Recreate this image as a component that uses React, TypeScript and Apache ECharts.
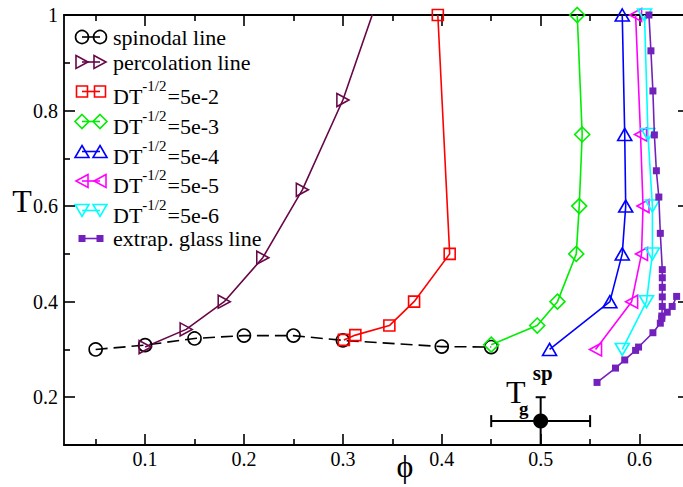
import React, { useEffect, useRef } from 'react';
import * as echarts from 'echarts';

// ---------- data ----------
const spinodalPhi = [0.05, 0.1, 0.15, 0.2, 0.25, 0.3, 0.4, 0.45];
const spinodalT = [0.300, 0.309, 0.323, 0.329, 0.329, 0.319, 0.306, 0.305];

const percolationPhi = [0.1, 0.1415, 0.18, 0.219, 0.259, 0.300, 0.338];
const percolationT = [0.305, 0.342, 0.400, 0.492, 0.634, 0.822, 1.05];

const dt2Phi = [0.301, 0.3126, 0.347, 0.372, 0.408, 0.396];
const dt2T = [0.32, 0.33, 0.35, 0.40, 0.50, 1.0];

const dt3Phi = [0.45, 0.4965, 0.517, 0.536, 0.539, 0.542, 0.537];
const dt3T = [0.31, 0.35, 0.40, 0.50, 0.60, 0.75, 1.0];

const dtLowT = [0.30, 0.40, 0.50, 0.60, 0.75, 1.0];
const dt4Phi = [0.509, 0.570, 0.5825, 0.586, 0.585, 0.5825];
const dt5Phi = [0.5555, 0.592, 0.602, 0.6035, 0.601, 0.596];
const dt6Phi = [0.5825, 0.607, 0.613, 0.613, 0.6085, 0.605];

const glassPhi = [0.557, 0.5757, 0.585, 0.596, 0.599, 0.6135, 0.621, 0.6225, 0.623, 0.623, 0.623, 0.623, 0.623, 0.621, 0.6195, 0.617, 0.615, 0.6135, 0.6115, 0.6095];
const glassT = [0.231, 0.261, 0.278, 0.298, 0.305, 0.335, 0.355, 0.370, 0.390, 0.410, 0.430, 0.450, 0.467, 0.543, 0.619, 0.674, 0.749, 0.841, 0.925, 1.0];
const glassBranchPhi = [0.6225, 0.628, 0.633, 0.6375];
const glassBranchT = [0.365, 0.378, 0.390, 0.411];

const tgPhi = 0.5;
const tgT = 0.15;
const tgPhiRange = [0.45, 0.55];
const tgTRange = [0.1, 0.2];

const xLabelTicks = [0.1, 0.2, 0.3, 0.4, 0.5, 0.6];
const xMinorTicks = [0.05, 0.15, 0.25, 0.35, 0.45, 0.55, 0.65];
const yLabelTicks = [0.2, 0.4, 0.6, 0.8, 1];
const yMinorTicks = [0.3, 0.5, 0.7, 0.9];

// legend texts
const plainLegendNames = ['spinodal line', 'percolation line', 'extrap. glass line'];
const dtLegendValues = ['=5e-2', '=5e-3', '=5e-4', '=5e-5', '=5e-6'];
const dtLegendBase = 'DT';
const dtLegendSup = '-1/2';

const X_MIN = 0.018;
const X_MAX = 0.65;
const Y_MIN = 0.1;
const Y_MAX = 1.0;

const FONT = 'Liberation Serif, Times New Roman, DejaVu Serif, serif';

const zip = (a: number[], b: number[]) => a.map((v, i) => [v, b[i]]);

const TRI_RIGHT = 'path://M0,0L10,5L0,10Z';
const TRI_LEFT = 'path://M10,0L0,5L10,10Z';
const TRI_UP = 'path://M5,0L10,10L0,10Z';
const TRI_DOWN = 'path://M0,0L10,0L5,10Z';

const COLORS = {
  spin: '#000000',
  perc: '#670748',
  dt2: '#ff0000',
  dt3: '#00ee00',
  dt4: '#0000ff',
  dt5: '#ff00ff',
  dt6: '#00ffff',
  glass: '#7221bc',
};

function lineSeries(name: string, data: number[][], color: string, symbol: string, size: any, extra: any = {}) {
  return {
    type: 'line',
    name,
    data,
    xAxisIndex: 0,
    yAxisIndex: 0,
    symbol,
    symbolSize: size,
    showAllSymbol: true,
    clip: true,
    lineStyle: { color, width: 1.6, ...(extra.lineStyle || {}) },
    itemStyle: { color: 'rgba(255,255,255,0)', borderColor: color, borderWidth: 1.6, ...(extra.itemStyle || {}) },
    emphasis: { disabled: true },
    z: extra.z || 3,
  };
}

function axisCommon(extra: any) {
  return {
    type: 'value',
    splitLine: { show: false },
    ...extra,
  };
}

function legendSymbol(kind: string, cx: number, cy: number, color: string): any {
  const st = { fill: 'none', stroke: color, lineWidth: 1.6 };
  switch (kind) {
    case 'circle':
      return { type: 'circle', shape: { cx, cy, r: 6.5 }, style: st };
    case 'rect':
      return { type: 'rect', shape: { x: cx - 5.5, y: cy - 5.5, width: 11, height: 11 }, style: st };
    case 'fillRect':
      return { type: 'rect', shape: { x: cx - 3.5, y: cy - 3.5, width: 7, height: 7 }, style: { fill: color } };
    case 'diamond':
      return { type: 'polygon', shape: { points: [[cx, cy - 7], [cx + 7, cy], [cx, cy + 7], [cx - 7, cy]] }, style: st };
    case 'triRight':
      return { type: 'polygon', shape: { points: [[cx - 6, cy - 6.5], [cx + 6, cy], [cx - 6, cy + 6.5]] }, style: st };
    case 'triLeft':
      return { type: 'polygon', shape: { points: [[cx + 6, cy - 6.5], [cx - 6, cy], [cx + 6, cy + 6.5]] }, style: st };
    case 'triUp':
      return { type: 'polygon', shape: { points: [[cx, cy - 6], [cx + 7, cy + 6], [cx - 7, cy + 6]] }, style: st };
    case 'triDown':
      return { type: 'polygon', shape: { points: [[cx - 7, cy - 6], [cx + 7, cy - 6], [cx, cy + 6]] }, style: st };
  }
  return null;
}

function legendIcon(kind: string, cy: number, color: string): any[] {
  const x1 = 82, x2 = 100;
  return [
    { type: 'line', shape: { x1, y1: cy, x2, y2: cy }, style: { stroke: color, lineWidth: 1.6 } },
    legendSymbol(kind, x1, cy, color),
    legendSymbol(kind, x2, cy, color),
  ];
}

function txt(text: string, x: number, y: number, size: number, extra: any = {}) {
  return {
    type: 'text', x, y,
    style: { text, fontFamily: FONT, fontSize: size, fill: '#000', align: 'left', verticalAlign: 'middle', ...extra },
  };
}

export default function App() {
  const ref = useRef<HTMLDivElement>(null);
  useEffect(() => {
    if (!ref.current) return;
    const chart = echarts.init(ref.current, null, { renderer: 'svg' });

    const axisLineStyle = { color: '#000', width: 1.8 };
    const tickStyle = { color: '#000', width: 1.6 };
    const labelStyle = { color: '#000', fontFamily: FONT, fontSize: 20 };

    const xAxes = [
      axisCommon({
        min: X_MIN, max: X_MAX, position: 'bottom', gridIndex: 0,
        axisLine: { show: true, onZero: false, lineStyle: axisLineStyle },
        axisTick: { show: true, inside: true, length: 11, customValues: xLabelTicks, lineStyle: tickStyle },
        axisLabel: { show: true, customValues: xLabelTicks, ...labelStyle, margin: 4, formatter: (v: number) => String(v) },
      }),
      axisCommon({
        min: X_MIN, max: X_MAX, position: 'bottom', gridIndex: 0,
        axisLine: { show: false, onZero: false },
        axisTick: { show: true, inside: true, length: 6, customValues: xMinorTicks, lineStyle: tickStyle },
        axisLabel: { show: false },
      }),
      axisCommon({
        min: X_MIN, max: X_MAX, position: 'top', gridIndex: 0,
        axisLine: { show: true, onZero: false, lineStyle: axisLineStyle },
        axisTick: { show: true, inside: true, length: 11, customValues: xLabelTicks, lineStyle: tickStyle },
        axisLabel: { show: false },
      }),
      axisCommon({
        min: X_MIN, max: X_MAX, position: 'top', gridIndex: 0,
        axisLine: { show: false, onZero: false },
        axisTick: { show: true, inside: true, length: 6, customValues: xMinorTicks, lineStyle: tickStyle },
        axisLabel: { show: false },
      }),
    ];
    const yAxes = [
      axisCommon({
        min: Y_MIN, max: Y_MAX, position: 'left', gridIndex: 0,
        axisLine: { show: true, onZero: false, lineStyle: axisLineStyle },
        axisTick: { show: true, inside: true, length: 11, customValues: yLabelTicks, lineStyle: tickStyle },
        axisLabel: { show: true, customValues: yLabelTicks, ...labelStyle, margin: 6, formatter: (v: number) => String(v) },
      }),
      axisCommon({
        min: Y_MIN, max: Y_MAX, position: 'left', gridIndex: 0,
        axisLine: { show: false, onZero: false },
        axisTick: { show: true, inside: true, length: 6, customValues: yMinorTicks, lineStyle: tickStyle },
        axisLabel: { show: false },
      }),
      axisCommon({
        min: Y_MIN, max: Y_MAX, position: 'right', gridIndex: 0,
        axisLine: { show: true, onZero: false, lineStyle: axisLineStyle },
        axisTick: { show: true, inside: true, length: 11, customValues: yLabelTicks, lineStyle: tickStyle },
        axisLabel: { show: false },
      }),
      axisCommon({
        min: Y_MIN, max: Y_MAX, position: 'right', gridIndex: 0,
        axisLine: { show: false, onZero: false },
        axisTick: { show: true, inside: true, length: 6, customValues: yMinorTicks, lineStyle: tickStyle },
        axisLabel: { show: false },
      }),
    ];

    const dtNames = dtLegendValues.map((v) => dtLegendBase + '^{' + dtLegendSup + '}' + v);

    const series: any[] = [
      lineSeries(plainLegendNames[0], zip(spinodalPhi, spinodalT), COLORS.spin, 'circle', 13, { lineStyle: { type: [12, 6] } }),
      lineSeries(plainLegendNames[1], zip(percolationPhi, percolationT), COLORS.perc, TRI_RIGHT, [12, 13]),
      lineSeries(dtNames[0], zip(dt2Phi, dt2T), COLORS.dt2, 'rect', 11),
      lineSeries(dtNames[1], zip(dt3Phi, dt3T), COLORS.dt3, 'diamond', 15),
      lineSeries(dtNames[2], zip(dt4Phi, dtLowT), COLORS.dt4, TRI_UP, [14, 12]),
      lineSeries(dtNames[3], zip(dt5Phi, dtLowT), COLORS.dt5, TRI_LEFT, [12, 13]),
      lineSeries(dtNames[4], zip(dt6Phi, dtLowT), COLORS.dt6, TRI_DOWN, [14, 12]),
      lineSeries(plainLegendNames[2], zip(glassPhi, glassT), COLORS.glass, 'rect', 7, { itemStyle: { color: COLORS.glass, borderWidth: 0 }, z: 4 }),
      lineSeries(plainLegendNames[2], zip(glassBranchPhi, glassBranchT), COLORS.glass, 'rect', 7, { itemStyle: { color: COLORS.glass, borderWidth: 0 }, z: 4 }),
      {
        type: 'custom',
        name: 'Tg_sp',
        xAxisIndex: 0,
        yAxisIndex: 0,
        clip: false,
        z: 6,
        data: [[tgPhi, tgT, tgPhiRange[0], tgPhiRange[1], tgTRange[0], tgTRange[1]]],
        encode: { x: 0, y: 1 },
        renderItem: (params: any, api: any) => {
          const c = api.coord([api.value(0), api.value(1)]);
          const xl = api.coord([api.value(2), api.value(1)]);
          const xr = api.coord([api.value(3), api.value(1)]);
          const yb = api.coord([api.value(0), api.value(4)]);
          const yt = api.coord([api.value(0), api.value(5)]);
          const st = { stroke: '#000', lineWidth: 2 };
          const cap = 6;
          return {
            type: 'group',
            children: [
              { type: 'line', shape: { x1: xl[0], y1: c[1], x2: xr[0], y2: c[1] }, style: st },
              { type: 'line', shape: { x1: xl[0], y1: c[1] - cap, x2: xl[0], y2: c[1] + cap }, style: st },
              { type: 'line', shape: { x1: xr[0], y1: c[1] - cap, x2: xr[0], y2: c[1] + cap }, style: st },
              { type: 'line', shape: { x1: c[0], y1: yb[1], x2: c[0], y2: yt[1] }, style: st },
              { type: 'line', shape: { x1: c[0] - 5, y1: yt[1], x2: c[0] + 5, y2: yt[1] }, style: st },
              { type: 'circle', shape: { cx: c[0], cy: c[1], r: 7.5 }, style: { fill: '#000' } },
              { type: 'text', x: c[0] - 25, y: c[1] - 29, style: { text: 'T', fontFamily: FONT, fontSize: 32, fill: '#000', align: 'center', verticalAlign: 'middle' } },
              { type: 'text', x: c[0] + 2, y: c[1] - 48, style: { text: 'sp', fontFamily: FONT, fontSize: 21, fontWeight: 'bold', fill: '#000', align: 'center', verticalAlign: 'middle' } },
              { type: 'text', x: c[0] - 17, y: c[1] - 13, style: { text: 'g', fontFamily: FONT, fontSize: 19, fontWeight: 'bold', fill: '#000', align: 'center', verticalAlign: 'middle' } },
            ],
          };
        },
      },
    ];

    // ---- legend drawn as graphic elements (xmgrace style: two symbols per entry) ----
    const TX = 113;
    const legendEls: any[] = [];
    legendEls.push(...legendIcon('circle', 37, COLORS.spin), txt(plainLegendNames[0], TX, 37, 22));
    legendEls.push(...legendIcon('triRight', 62, COLORS.perc), txt(plainLegendNames[1], TX, 62, 22));
    const dtKinds = ['rect', 'diamond', 'triUp', 'triLeft', 'triDown'];
    const dtCols = [COLORS.dt2, COLORS.dt3, COLORS.dt4, COLORS.dt5, COLORS.dt6];
    const dtTextY = [96, 126, 156, 185.5, 215];
    dtLegendValues.forEach((v, i) => {
      const ty = dtTextY[i];
      legendEls.push(...legendIcon(dtKinds[i], ty - 4.5, dtCols[i]));
      legendEls.push(txt(dtLegendBase, TX, ty, 22));
      legendEls.push(txt(dtLegendSup, TX + 29.3, ty - 10.5, 15));
      legendEls.push(txt(v, TX + 54.5, ty, 22));
    });
    legendEls.push(...legendIcon('fillRect', 238.5, COLORS.glass), txt(plainLegendNames[2], TX, 238.5, 22));

    chart.setOption({
      animation: false,
      backgroundColor: '#fff',
      grid: { left: 64, top: 15, width: 625, height: 430, containLabel: false, outerBoundsMode: 'none' },
      xAxis: xAxes,
      yAxis: yAxes,
      graphic: [
        { type: 'group', z: 10, children: legendEls },
        { type: 'text', x: 22, y: 201, style: { text: 'T', fontFamily: FONT, fontSize: 32, fill: '#000', align: 'center', verticalAlign: 'middle' } },
        { type: 'text', x: 405, y: 466, style: { text: 'ϕ', fontFamily: FONT, fontSize: 32, fill: '#000', align: 'center', verticalAlign: 'middle' } },
      ],
      series,
    });

    return () => chart.dispose();
  }, []);

  return <div ref={ref} style={{ position: 'fixed', left: 0, top: 0, width: 683, height: 487 }} />;
}
